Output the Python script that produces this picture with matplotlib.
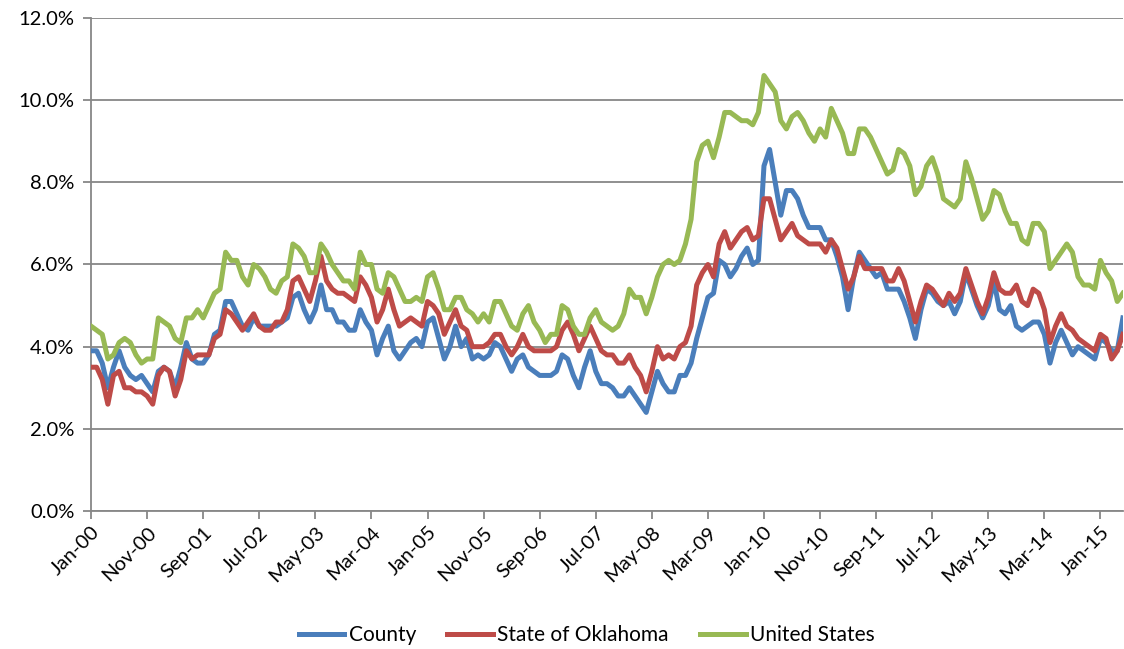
import matplotlib
matplotlib.use('Agg')
from matplotlib import pyplot as plt

plt.rcParams['font.family'] = ['Lato', 'DejaVu Sans']

# monthly rates (%), Jan-00 .. May-15
county = [3.9, 3.9, 3.6, 3.0, 3.5, 3.9, 3.5, 3.3, 3.2, 3.3, 3.1, 2.9,
          3.4, 3.5, 3.4, 3.0, 3.5, 4.1, 3.7, 3.6, 3.6, 3.8, 4.3, 4.4,
          5.1, 5.1, 4.8, 4.5, 4.4, 4.7, 4.5, 4.5, 4.5, 4.5, 4.6, 4.7,
          5.2, 5.3, 4.9, 4.6, 4.9, 5.5, 4.9, 4.9, 4.6, 4.6, 4.4, 4.4,
          4.9, 4.6, 4.4, 3.8, 4.2, 4.5, 3.9, 3.7, 3.9, 4.1, 4.2, 4.0,
          4.6, 4.7, 4.2, 3.7, 4.0, 4.5, 4.0, 4.2, 3.7, 3.8, 3.7, 3.8,
          4.1, 4.0, 3.7, 3.4, 3.7, 3.8, 3.5, 3.4, 3.3, 3.3, 3.3, 3.4,
          3.8, 3.7, 3.3, 3.0, 3.5, 3.9, 3.4, 3.1, 3.1, 3.0, 2.8, 2.8,
          3.0, 2.8, 2.6, 2.4, 2.9, 3.4, 3.1, 2.9, 2.9, 3.3, 3.3, 3.6,
          4.2, 4.7, 5.2, 5.3, 6.1, 6.0, 5.7, 5.9, 6.2, 6.4, 6.0, 6.1,
          8.4, 8.8, 8.0, 7.2, 7.8, 7.8, 7.6, 7.2, 6.9, 6.9, 6.9, 6.6,
          6.6, 6.2, 5.7, 4.9, 5.7, 6.3, 6.1, 5.9, 5.7, 5.8, 5.4, 5.4,
          5.4, 5.1, 4.7, 4.2, 4.9, 5.4, 5.3, 5.1, 5.0, 5.1, 4.8, 5.1,
          5.8, 5.4, 5.0, 4.7, 5.0, 5.6, 4.9, 4.8, 5.0, 4.5, 4.4, 4.5,
          4.6, 4.6, 4.3, 3.6, 4.1, 4.4, 4.1, 3.8, 4.0, 3.9, 3.8, 3.7,
          4.2, 4.1, 3.9, 3.9, 4.7]

oklahoma = [3.5, 3.5, 3.2, 2.6, 3.3, 3.4, 3.0, 3.0, 2.9, 2.9, 2.8, 2.6,
            3.3, 3.5, 3.4, 2.8, 3.2, 3.9, 3.7, 3.8, 3.8, 3.8, 4.2, 4.3,
            4.9, 4.8, 4.6, 4.4, 4.6, 4.8, 4.5, 4.4, 4.4, 4.6, 4.6, 4.9,
            5.6, 5.7, 5.4, 5.1, 5.6, 6.2, 5.6, 5.4, 5.3, 5.3, 5.2, 5.1,
            5.7, 5.5, 5.2, 4.6, 4.9, 5.4, 4.9, 4.5, 4.6, 4.7, 4.6, 4.5,
            5.1, 5.0, 4.8, 4.3, 4.6, 4.9, 4.5, 4.4, 4.0, 4.0, 4.0, 4.1,
            4.3, 4.3, 4.0, 3.8, 4.0, 4.3, 4.0, 3.9, 3.9, 3.9, 3.9, 4.0,
            4.4, 4.6, 4.3, 3.9, 4.2, 4.5, 4.2, 3.9, 3.8, 3.8, 3.6, 3.6,
            3.8, 3.5, 3.3, 2.9, 3.4, 4.0, 3.7, 3.8, 3.7, 4.0, 4.1, 4.5,
            5.5, 5.8, 6.0, 5.7, 6.5, 6.8, 6.4, 6.6, 6.8, 6.9, 6.6, 6.7,
            7.6, 7.6, 7.1, 6.6, 6.8, 7.0, 6.7, 6.6, 6.5, 6.5, 6.5, 6.3,
            6.6, 6.4, 5.9, 5.4, 5.7, 6.2, 5.9, 5.9, 5.9, 5.9, 5.6, 5.6,
            5.9, 5.6, 5.1, 4.6, 5.1, 5.5, 5.4, 5.2, 5.0, 5.3, 5.1, 5.3,
            5.9, 5.5, 5.1, 4.8, 5.2, 5.8, 5.4, 5.3, 5.3, 5.5, 5.1, 5.0,
            5.4, 5.3, 4.9, 4.1, 4.5, 4.8, 4.5, 4.4, 4.2, 4.1, 4.0, 3.9,
            4.3, 4.2, 3.7, 3.9, 4.3]

us = [4.5, 4.4, 4.3, 3.7, 3.8, 4.1, 4.2, 4.1, 3.8, 3.6, 3.7, 3.7,
      4.7, 4.6, 4.5, 4.2, 4.1, 4.7, 4.7, 4.9, 4.7, 5.0, 5.3, 5.4,
      6.3, 6.1, 6.1, 5.7, 5.5, 6.0, 5.9, 5.7, 5.4, 5.3, 5.6, 5.7,
      6.5, 6.4, 6.2, 5.8, 5.8, 6.5, 6.3, 6.0, 5.8, 5.6, 5.6, 5.4,
      6.3, 6.0, 6.0, 5.4, 5.3, 5.8, 5.7, 5.4, 5.1, 5.1, 5.2, 5.1,
      5.7, 5.8, 5.4, 4.9, 4.9, 5.2, 5.2, 4.9, 4.8, 4.6, 4.8, 4.6,
      5.1, 5.1, 4.8, 4.5, 4.4, 4.8, 5.0, 4.6, 4.4, 4.1, 4.3, 4.3,
      5.0, 4.9, 4.5, 4.3, 4.3, 4.7, 4.9, 4.6, 4.5, 4.4, 4.5, 4.8,
      5.4, 5.2, 5.2, 4.8, 5.2, 5.7, 6.0, 6.1, 6.0, 6.1, 6.5, 7.1,
      8.5, 8.9, 9.0, 8.6, 9.1, 9.7, 9.7, 9.6, 9.5, 9.5, 9.4, 9.7,
      10.6, 10.4, 10.2, 9.5, 9.3, 9.6, 9.7, 9.5, 9.2, 9.0, 9.3, 9.1,
      9.8, 9.5, 9.2, 8.7, 8.7, 9.3, 9.3, 9.1, 8.8, 8.5, 8.2, 8.3,
      8.8, 8.7, 8.4, 7.7, 7.9, 8.4, 8.6, 8.2, 7.6, 7.5, 7.4, 7.6,
      8.5, 8.1, 7.6, 7.1, 7.3, 7.8, 7.7, 7.3, 7.0, 7.0, 6.6, 6.5,
      7.0, 7.0, 6.8, 5.9, 6.1, 6.3, 6.5, 6.3, 5.7, 5.5, 5.5, 5.4,
      6.1, 5.8, 5.6, 5.1, 5.3]

tick_labels = ['Jan-00', 'Nov-00', 'Sep-01', 'Jul-02', 'May-03', 'Mar-04',
               'Jan-05', 'Nov-05', 'Sep-06', 'Jul-07', 'May-08', 'Mar-09',
               'Jan-10', 'Nov-10', 'Sep-11', 'Jul-12', 'May-13', 'Mar-14',
               'Jan-15']

months = list(range(len(us)))
grey = '#878787'

fig = plt.figure(figsize=(11.24, 6.49), dpi=100)
ax = fig.add_axes([0.081, 0.2126, 0.918, 0.7597])

ax.plot(months, county, color='#4A7EBB', lw=3.6, label='County', solid_joinstyle='round', zorder=3)
ax.plot(months, oklahoma, color='#BE4B48', lw=3.6, label='State of Oklahoma', solid_joinstyle='round', zorder=3)
ax.plot(months, us, color='#98B954', lw=3.6, label='United States', solid_joinstyle='round', zorder=3)

ax.set_xlim(0, len(us) - 1)
ax.set_ylim(0, 12)
ax.set_yticks(range(0, 13, 2))
ax.set_yticklabels(['%.1f%%' % v for v in range(0, 13, 2)])
ax.set_xticks(range(0, 10 * len(tick_labels), 10))
ax.set_xticklabels(tick_labels, rotation=45, ha='right', rotation_mode='anchor')

ax.grid(axis='y', color=grey, lw=1.3)
ax.set_axisbelow(True)
for s in ['top', 'right']:
    ax.spines[s].set_visible(False)
for s in ['left', 'bottom']:
    ax.spines[s].set_color(grey)
    ax.spines[s].set_linewidth(1.3)
ax.tick_params(axis='both', colors=grey, width=1.3, length=6, labelcolor='black', labelsize=14.5)
ax.tick_params(axis='x', pad=3)
ax.tick_params(axis='y', pad=6)

fig.legend(loc='center', bbox_to_anchor=(0.522, 0.021), ncol=3, frameon=False,
           fontsize=15, handlelength=2.2, handletextpad=0.2, columnspacing=1.5)

fig.savefig('out.png', dpi=100)
